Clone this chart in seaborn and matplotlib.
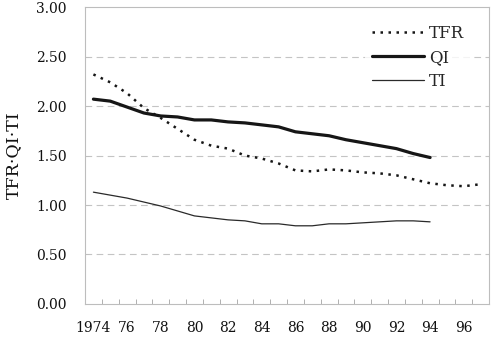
import matplotlib
matplotlib.use("Agg")
import matplotlib.pyplot as plt
import seaborn as sns
import pandas as pd
import numpy as np

years = list(range(1974, 1998))
tfr = [2.32, 2.24, 2.13, 1.98, 1.88, 1.77, 1.66, 1.60, 1.57, 1.50, 1.47, 1.42,
       1.35, 1.34, 1.36, 1.35, 1.33, 1.32, 1.30, 1.26, 1.22, 1.20, 1.19, 1.21]
qi_years = list(range(1974, 1995))
qi = [2.07, 2.05, 1.99, 1.93, 1.90, 1.89, 1.86, 1.86, 1.84, 1.83, 1.81, 1.79,
      1.74, 1.72, 1.70, 1.66, 1.63, 1.60, 1.57, 1.52, 1.48]
ti = [1.13, 1.10, 1.07, 1.03, 0.99, 0.94, 0.89, 0.87, 0.85, 0.84, 0.81, 0.81,
      0.79, 0.79, 0.81, 0.81, 0.82, 0.83, 0.84, 0.84, 0.83]
ytick_vals = [0.0, 0.5, 1.0, 1.5, 2.0, 2.5, 3.0]
xtick_labels = ["1974", "76", "78", "80", "82", "84", "86", "88", "90", "92", "94", "96"]

sns.set_theme(style="white")
plt.rcParams["font.family"] = ["DejaVu Serif"]

fig = plt.figure(figsize=(5.0, 3.4), dpi=100)
ax = fig.add_axes([0.17, 0.106, 0.808, 0.873])

first = years[0]
df_tfr = pd.DataFrame({"x": [y - first + 0.5 for y in years], "v": tfr})
df_qi = pd.DataFrame({"x": [y - first + 0.5 for y in qi_years], "v": qi})
df_ti = pd.DataFrame({"x": [y - first + 0.5 for y in qi_years], "v": ti})

line_col = "#161616"
sns.lineplot(data=df_tfr, x="x", y="v", ax=ax, color=line_col, lw=1.8,
             linestyle=(0, (1, 2.2)), label="TFR")
sns.lineplot(data=df_qi, x="x", y="v", ax=ax, color=line_col, lw=2.3, label="QI")
sns.lineplot(data=df_ti, x="x", y="v", ax=ax, color="#2a2a2a", lw=0.9, label="TI")

ax.set_xlim(0, len(years))
ax.set_ylim(0, 3.0)

for g in ytick_vals[1:-1]:
    ax.axhline(g, color="#c4c4c4", lw=0.8, linestyle=(0, (6, 4)), zorder=0)

ax.set_yticks(ytick_vals)
ax.set_yticklabels([f"{v:.2f}" for v in ytick_vals], fontsize=10)
ax.set_xticks([i + 0.5 for i in range(0, len(years), 2)])
ax.set_xticklabels(xtick_labels, fontsize=10)
ax.set_xticks(range(0, len(years) + 1), minor=True)
ax.tick_params(axis="x", which="major", length=0, pad=12, colors="#111111")
ax.tick_params(axis="x", which="minor", direction="in", length=3.5, width=0.7,
               color="#b0b0b0", bottom=True)
ax.tick_params(axis="y", which="major", direction="in", length=3, width=0.7,
               color="#c0c0c0", pad=13, left=True, labelcolor="#111111")

for s in ax.spines.values():
    s.set_visible(True)
    s.set_color("#bdbdbd")
    s.set_linewidth(0.8)

ax.set_xlabel("")
ax.set_ylabel("TFR·QI·TI", fontsize=12.5, labelpad=10, color="#111111")

leg = ax.legend(loc="upper left", bbox_to_anchor=(0.694, 0.962), frameon=True,
                fontsize=12, handlelength=3.1, handletextpad=0.3,
                labelspacing=0.42, borderaxespad=0)
leg.get_frame().set_facecolor("white")
leg.get_frame().set_edgecolor("none")

fig.savefig("out.png", dpi=100)
